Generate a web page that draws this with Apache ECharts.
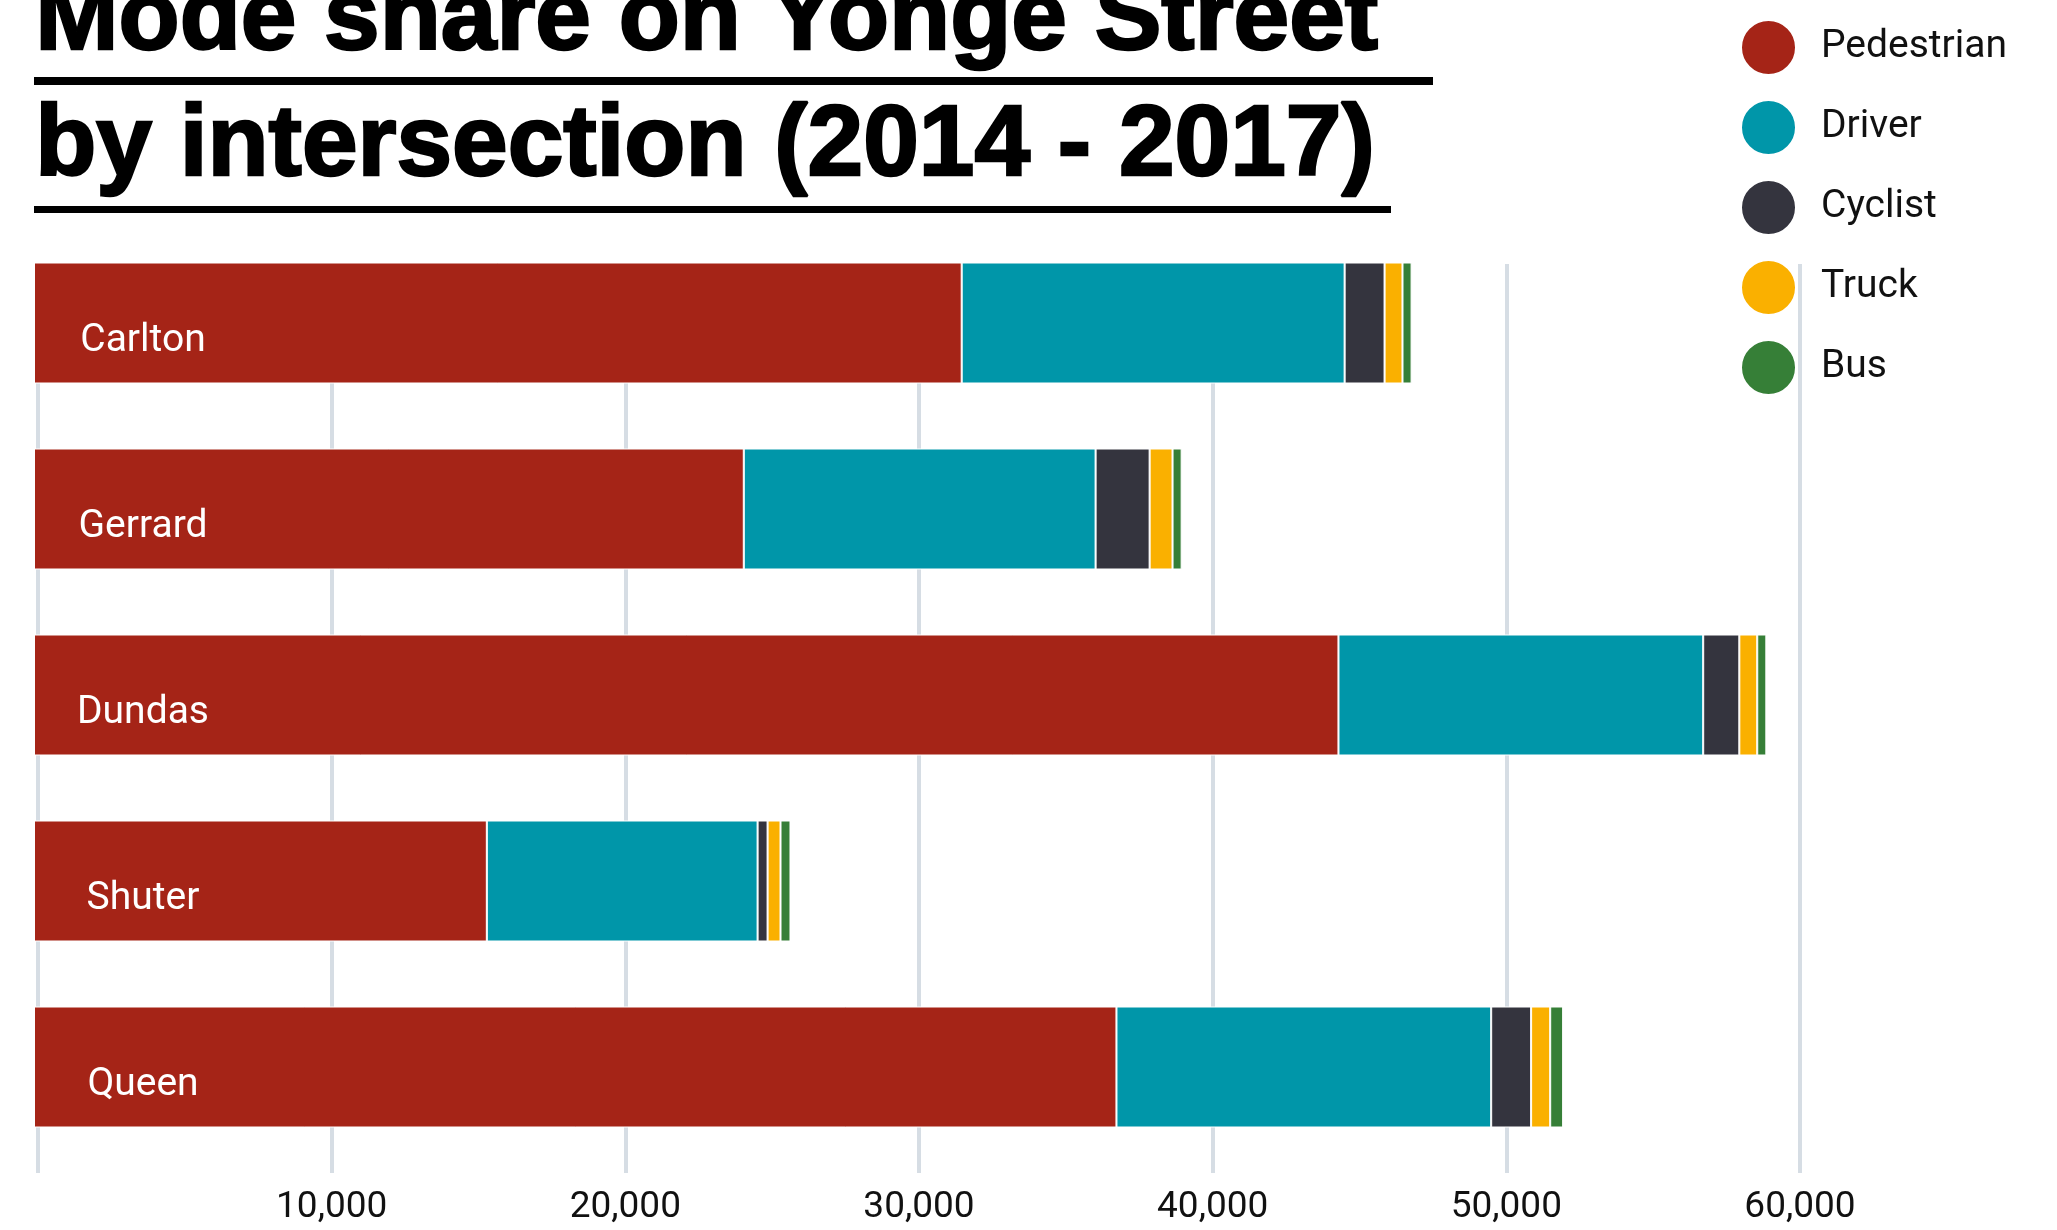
<!DOCTYPE html>
<html>
<head>
<meta charset="utf-8">
<script src="https://cdn.jsdelivr.net/npm/echarts@6/dist/echarts.min.js"></script>
<style>
html,body{margin:0;padding:0;background:#fff;}
#chart{width:2057px;height:1230px;}
</style>
</head>
<body>
<div id="chart"></div>
<script>
const categories = ['Carlton', 'Gerrard', 'Dundas', 'Shuter', 'Queen'];
const pedestrian = [31590, 24170, 44420, 15420, 36860];
const driver     = [13040, 11980, 12420, 9220, 12760];
const cyclist    = [1360, 1840, 1230, 340, 1360];
const truck      = [610, 780, 610, 440, 650];
const bus        = [310, 310, 310, 340, 440];
const tickLabels = ['', '10,000', '20,000', '30,000', '40,000', '50,000', '60,000'];
const titleLines = ['Mode share on Yonge Street', 'by intersection (2014 - 2017)'];

const seriesDefs = [
  {name: 'Pedestrian', data: pedestrian, color: '#a52417'},
  {name: 'Driver', data: driver, color: '#0096a9'},
  {name: 'Cyclist', data: cyclist, color: '#34343e'},
  {name: 'Truck', data: truck, color: '#fab000'},
  {name: 'Bus', data: bus, color: '#367f37'}
];

const chart = echarts.init(document.getElementById('chart'));
const series = seriesDefs.map((s, i) => ({
  name: s.name,
  type: 'bar',
  stack: 'total',
  xAxisIndex: 0,
  yAxisIndex: 0,
  barWidth: 121,
  data: s.data,
  itemStyle: {color: s.color, borderColor: '#ffffff', borderWidth: 1},
  emphasis: {disabled: true},
  label: i === 0 ? {
    show: true,
    position: [109, 79],
    align: 'center',
    verticalAlign: 'middle',
    formatter: p => p.name,
    color: '#ffffff',
    fontFamily: 'Roboto',
    fontSize: 39
  } : {show: false}
}));

chart.setOption({
  animation: false,
  backgroundColor: '#ffffff',
  color: seriesDefs.map(s => s.color),
  graphic: [
    {type: 'text', left: 34, top: -30, style: {text: titleLines[0], font: 'bold 100px "Liberation Sans"', fill: '#000', stroke: '#000', lineWidth: 2.5}, z: 10},
    {type: 'rect', shape: {x: 34, y: 77, width: 1399, height: 8}, style: {fill: '#000'}, z: 10},
    {type: 'text', left: 34, top: 96, style: {text: titleLines[1], font: 'bold 100px "Liberation Sans"', fill: '#000', stroke: '#000', lineWidth: 2.5}, z: 10},
    {type: 'rect', shape: {x: 34, y: 206, width: 1357, height: 7}, style: {fill: '#000'}, z: 10}
  ],
  legend: {
    orient: 'vertical',
    left: 1735,
    top: 14,
    icon: 'circle',
    itemWidth: 55,
    itemHeight: 55,
    itemGap: 23,
    selectedMode: false,
    textStyle: {fontFamily: 'Roboto', fontSize: 39, color: '#111', padding: [0, 0, 0, 20]},
    data: seriesDefs.map(s => s.name)
  },
  grid: [
    {left: 34, top: 230, width: 1762, height: 930, containLabel: false},
    {left: 38, top: 264, width: 1762, height: 909, containLabel: false}
  ],
  xAxis: [
    {type: 'value', gridIndex: 0, min: 0, max: 60000, show: false},
    {
      type: 'value', gridIndex: 1, min: 0, max: 60000, interval: 10000,
      axisLine: {show: false}, axisTick: {show: false},
      splitLine: {show: true, lineStyle: {color: '#d6dde4', width: 4}},
      axisLabel: {
        margin: 16, fontFamily: 'Roboto', fontSize: 37, color: '#111',
        formatter: v => tickLabels[Math.round(v / 10000)]
      }
    }
  ],
  yAxis: [
    {type: 'category', gridIndex: 0, data: categories, inverse: true, show: false},
    {type: 'value', gridIndex: 1, min: 0, max: 1, show: false, splitLine: {show: false}}
  ],
  series: series
});
</script>
</body>
</html>
